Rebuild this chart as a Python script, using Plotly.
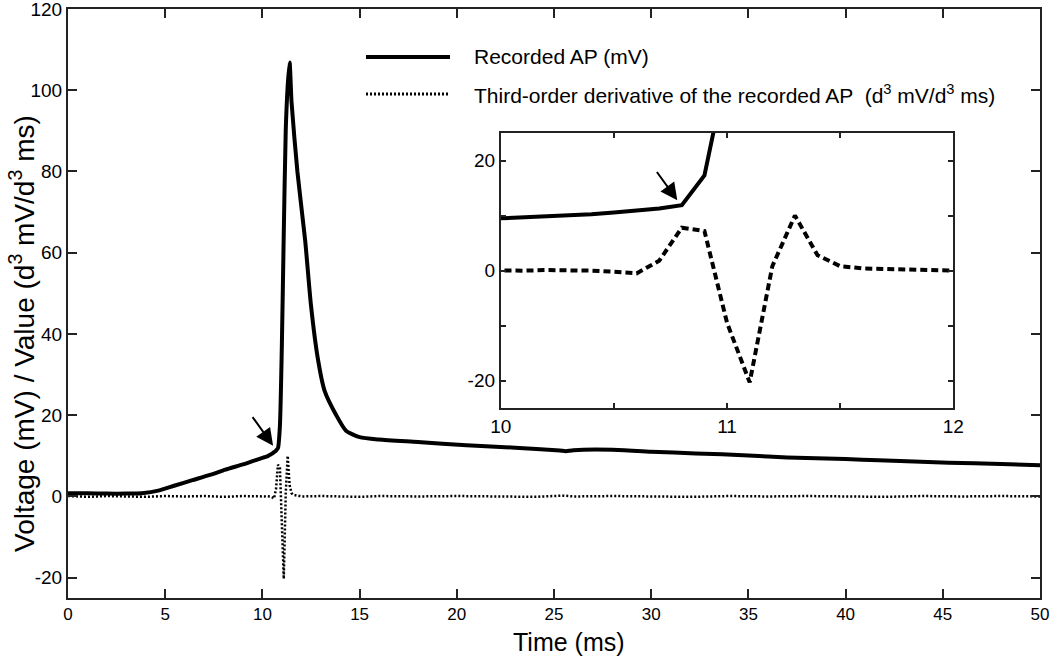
import plotly.graph_objects as go

# ---------------- data ----------------
ap_time = [0, 1, 2, 3, 3.8, 4.7, 5.5, 6.4, 7.3, 8.1, 9.0, 9.5,
           10.0, 10.1, 10.2, 10.3, 10.4, 10.5, 10.6, 10.7, 10.8, 10.9,
           11.0, 11.1, 11.2, 11.3, 11.4, 11.5, 11.8, 12.2, 12.5, 12.85,
           13.2, 13.8, 14.3, 15.0, 16, 18, 20.5, 23, 25.3, 25.6, 26, 28,
           30, 32.3, 35, 37, 40, 41.7, 45.3, 48, 50]
ap_mv = [0.8, 0.8, 0.7, 0.7, 0.8, 1.5, 2.7, 4.0, 5.3, 6.6, 7.9, 8.7,
         9.5, 9.65, 9.8, 10.0, 10.25, 10.55, 10.9, 11.3, 11.9, 17.3,
         37, 65, 90, 101, 106.8, 97, 80, 63, 47, 34,
         26, 20, 16.2, 14.6, 14.0, 13.4, 12.6, 12.0, 11.3, 11.15, 11.4, 11.5,
         11.0, 10.6, 10.1, 9.6, 9.2, 8.9, 8.3, 8.0, 7.7]

d3_time = [0, 1, 2, 3, 4, 5, 6, 7, 8, 9, 9.5,
           10.0, 10.1, 10.2, 10.3, 10.4, 10.5, 10.6, 10.7, 10.8, 10.9,
           11.0, 11.1, 11.2, 11.3, 11.4, 11.5, 11.6, 11.7, 11.8, 11.9, 12.0,
           13, 14, 15, 16, 18, 20, 22, 24, 25.5, 26, 28, 30, 32, 34, 36,
           38, 40, 42, 44, 46, 48, 50]
d3_val = [0.1, -0.1, 0.1, 0.0, -0.1, 0.1, 0.0, 0.1, -0.1, 0.1, 0.0,
          0.0, 0.0, 0.1, 0.1, 0.0, -0.2, -0.5, 1.8, 7.8, 7.2,
          -9.5, -20.3, 0.8, 10.0, 2.8, 0.8, 0.4, 0.3, 0.2, 0.1, 0.0,
          0.1, 0.0, -0.1, 0.1, 0.0, 0.1, 0.0, -0.1, 0.2, 0.0, 0.1, 0.0,
          -0.1, 0.1, 0.0, 0.1, 0.0, -0.1, 0.1, 0.0, 0.1, 0.0]

main_xticks = [0, 5, 10, 15, 20, 25, 30, 35, 40, 45, 50]
main_xlabels = ["0", "5", "10", "15", "20", "25", "30", "35", "40", "45", "50"]
main_yticks = [-20, 0, 20, 40, 60, 80, 100, 120]
main_ylabels = ["-20", "0", "20", "40", "60", "80", "100", "120"]
inset_xticks = [10, 11, 12]
inset_xlabels = ["10", "11", "12"]
inset_xminor = [10.5, 11.5]
inset_yticks = [-20, 0, 20]
inset_ylabels = ["-20", "0", "20"]
inset_yminor = [-10, 10]

x_title = "Time (ms)"
y_title = "Voltage (mV) / Value (d<sup>3</sup> mV/d<sup>3</sup> ms)"
legend_ap = "Recorded AP (mV)"
legend_d3 = "Third-order derivative of the recorded AP  (d<sup>3</sup> mV/d<sup>3</sup> ms)"

FONT = "Liberation Sans, Arial, sans-serif"

# layout geometry (pixels)
W, H = 1050, 661
ML, MR, MT, MB = 68, 10, 9, 63
PW, PH = W - ML - MR, H - MT - MB


def px2paper_x(px):
    return (px - ML) / PW


def px2paper_y(py):
    return (H - MB - py) / PH


fig = go.Figure()

# main axes
fig.add_trace(go.Scatter(x=ap_time, y=ap_mv, mode="lines",
                         line=dict(color="black", width=4, shape="spline", smoothing=0.6),
                         xaxis="x", yaxis="y", showlegend=False))
fig.add_trace(go.Scatter(x=d3_time, y=d3_val, mode="lines",
                         line=dict(color="black", width=2.5, dash="2px,2px"),
                         xaxis="x", yaxis="y", showlegend=False))
# inset axes
fig.add_trace(go.Scatter(x=ap_time, y=ap_mv, mode="lines",
                         line=dict(color="black", width=4),
                         xaxis="x2", yaxis="y2", showlegend=False))
fig.add_trace(go.Scatter(x=d3_time, y=d3_val, mode="lines",
                         line=dict(color="black", width=4, dash="7px,4px"),
                         xaxis="x2", yaxis="y2", showlegend=False))

axis_common = dict(showgrid=False, zeroline=False, showline=True,
                   linecolor="#222", linewidth=2, mirror="ticks",
                   ticks="inside", tickcolor="#222", tickwidth=1.5,
                   automargin=False, ticklabeloverflow="allow")

fig.update_layout(
    width=W, height=H,
    margin=dict(l=ML, r=MR, t=MT, b=MB, autoexpand=False),
    paper_bgcolor="white", plot_bgcolor="white",
    font=dict(family=FONT, color="black"),
    xaxis=dict(domain=[0, 1], range=[0, 50], tickvals=main_xticks,
               ticktext=main_xlabels, ticklen=9, tickfont=dict(size=17),
               **axis_common),
    yaxis=dict(domain=[0, 1], range=[-25, 120], tickvals=main_yticks,
               ticktext=main_ylabels, ticklen=9, tickfont=dict(size=19),
               **axis_common),
    xaxis2=dict(domain=[0.4453, 0.9108], range=[10, 12], anchor="y2",
                tickvals=inset_xticks, ticktext=inset_xlabels, ticklen=5,
                minor=dict(tickvals=inset_xminor, ticks="inside", ticklen=5,
                           tickcolor="#222", tickwidth=1.5, showgrid=False),
                tickfont=dict(size=19), **axis_common),
    yaxis2=dict(domain=[0.3222, 0.7894], range=[-25, 25], anchor="x2",
                tickvals=inset_yticks, ticktext=inset_ylabels, ticklen=5,
                minor=dict(tickvals=inset_yminor, ticks="inside", ticklen=5,
                           tickcolor="#222", tickwidth=1.5, showgrid=False),
                tickfont=dict(size=19), **axis_common),
)

# axis titles
fig.add_annotation(xref="paper", yref="paper", x=px2paper_x(569), y=px2paper_y(642),
                   text=x_title, showarrow=False, xanchor="center", yanchor="middle",
                   font=dict(size=25, color="black"))
fig.add_annotation(xref="paper", yref="paper", x=px2paper_x(22), y=px2paper_y(334),
                   text=y_title, showarrow=False, xanchor="center", yanchor="middle",
                   textangle=-90, font=dict(size=28, color="black"))

# manual legend
leg_rows = [(57, legend_ap, "solid", 4), (94, legend_d3, "2px,2px", 3)]
for py, txt, dash, w in leg_rows:
    fig.add_shape(type="line", xref="paper", yref="paper",
                  x0=px2paper_x(366), x1=px2paper_x(450),
                  y0=px2paper_y(py), y1=px2paper_y(py),
                  line=dict(color="black", width=w, dash=dash))
    fig.add_annotation(xref="paper", yref="paper", x=px2paper_x(472),
                       y=px2paper_y(py), text=txt, showarrow=False,
                       xanchor="left", yanchor="middle",
                       font=dict(size=21, color="black"))

# arrows
fig.add_annotation(x=10.55, y=12.5, ax=9.44, ay=19.9, xref="x", yref="y",
                   axref="x", ayref="y", text="", showarrow=True,
                   arrowhead=2, arrowsize=1.7, arrowwidth=2, arrowcolor="black")
fig.add_annotation(x=10.78, y=12.8, ax=10.685, ay=18.2, xref="x2", yref="y2",
                   axref="x2", ayref="y2", text="", showarrow=True,
                   arrowhead=2, arrowsize=1.7, arrowwidth=2, arrowcolor="black")

fig.write_html("out.html", config={"displayModeBar": False},
               post_script="document.body.style.margin='0';document.body.style.overflow='hidden';")
